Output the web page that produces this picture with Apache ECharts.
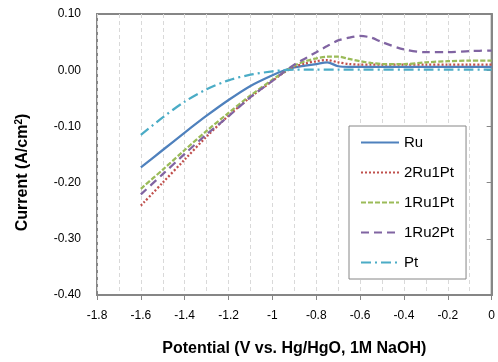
<!DOCTYPE html>
<html>
<head>
<meta charset="utf-8">
<script src="https://cdn.jsdelivr.net/npm/echarts@6/dist/echarts.min.js"></script>
<style>html,body{margin:0;padding:0;background:#fff}#c{width:498px;height:362px}</style>
</head>
<body>
<div id="c"></div>
<script>
var potential = [-1.6,-1.5,-1.4,-1.3,-1.2,-1.1,-1.0,-0.95,-0.9,-0.85,-0.8,-0.75,-0.7,-0.65,-0.6,-0.55,-0.5,-0.4,-0.3,-0.2,-0.1,0];
var ru      = [-0.173,-0.142,-0.111,-0.081,-0.053,-0.028,-0.009,-0.001,0.005,0.008,0.011,0.014,0.007,0.006,0.006,0.006,0.006,0.006,0.006,0.006,0.006,0.006];
var ru2pt1  = [-0.241,-0.200,-0.159,-0.118,-0.081,-0.048,-0.019,-0.005,0.006,0.012,0.016,0.018,0.014,0.011,0.010,0.010,0.010,0.010,0.010,0.010,0.010,0.010];
var ru1pt1  = [-0.211,-0.177,-0.142,-0.108,-0.076,-0.045,-0.017,-0.004,0.008,0.016,0.021,0.024,0.024,0.020,0.016,0.013,0.011,0.011,0.014,0.016,0.017,0.017];
var ru1pt2  = [-0.221,-0.185,-0.149,-0.114,-0.082,-0.048,-0.019,-0.004,0.010,0.021,0.032,0.043,0.053,0.058,0.061,0.058,0.050,0.037,0.032,0.032,0.034,0.035];
var pt      = [-0.115,-0.084,-0.056,-0.034,-0.018,-0.008,-0.002,0.000,0.001,0.001,0.001,0.001,0.001,0.001,0.001,0.001,0.001,0.001,0.001,0.001,0.001,0.001];
var seriesNames = ['Ru','2Ru1Pt','1Ru1Pt','1Ru2Pt','Pt'];
var seriesColors = ['#4F81BD','#C0504D','#9BBB59','#8064A2','#4BACC6'];
var seriesDash = ['solid',[2,2],[5,2],[8,5],[10,4,2,4]];
var seriesData = [ru, ru2pt1, ru1pt1, ru1pt2, pt];
var xTicks = {min:-1.8, max:0, step:0.2};
var yTicks = {min:-0.4, max:0.1, step:0.1};

function pairs(ys){ return potential.map(function(x,i){ return [x, ys[i]]; }); }

var chart = echarts.init(document.getElementById('c'), null, {renderer:'canvas'});
var font = 'Liberation Sans';
chart.setOption({
  animation:false,
  grid:{left:97, right:5, top:14, bottom:58, show:true, borderColor:'#868686', borderWidth:2},
  xAxis:{
    type:'value', min:xTicks.min, max:xTicks.max, interval:xTicks.step,
    name:'Potential (V vs. Hg/HgO, 1M NaOH)', nameLocation:'middle', nameGap:46,
    nameTextStyle:{fontFamily:font, fontWeight:'bold', fontSize:16, color:'#000'},
    axisLine:{onZero:false, lineStyle:{color:'#868686', width:2}},
    axisTick:{show:true, length:5, lineStyle:{color:'#868686'}},
    axisLabel:{margin:15, fontFamily:font, fontSize:12, color:'#000'},
    splitLine:{show:true, lineStyle:{color:'#D9D9D9', type:[4,3], width:1}},
    minorTick:{show:false, splitNumber:2},
    minorSplitLine:{show:true, lineStyle:{color:'#D9D9D9', type:[4,3], width:1}}
  },
  yAxis:{
    type:'value', min:yTicks.min, max:yTicks.max, interval:yTicks.step,
    name:'Current (A/cm{sup|2})', nameLocation:'middle', nameGap:65,
    nameTextStyle:{fontFamily:font, fontWeight:'bold', fontSize:16, color:'#000', padding:[0,36,0,0],
      rich:{sup:{fontSize:10, fontWeight:'bold', fontFamily:font, verticalAlign:'top', padding:[0,0,8,0]}}},
    axisLine:{show:true, lineStyle:{color:'#868686', width:2}},
    axisTick:{show:true, length:5, lineStyle:{color:'#868686'}},
    axisLabel:{margin:16, fontFamily:font, fontSize:12, color:'#000', formatter:function(v){return v.toFixed(2);}},
    splitLine:{show:false}
  },
  legend:{
    orient:'vertical', left:349, top:126,
    backgroundColor:'#fff', borderColor:'#868686', borderWidth:1,
    padding:[9,12,9,11], itemWidth:38, itemHeight:14, itemGap:15,
    itemStyle:{opacity:0},
    textStyle:{fontFamily:font, fontSize:15, color:'#000'},
    data:seriesNames
  },
  series: seriesData.map(function(d,i){
    return {
      name:seriesNames[i], type:'line', data:pairs(d), smooth:0.3, showSymbol:false, symbol:'none',
      lineStyle:{color:seriesColors[i], width:2.25, type:seriesDash[i]},
      itemStyle:{color:seriesColors[i]}
    };
  })
});
</script>
</body>
</html>
